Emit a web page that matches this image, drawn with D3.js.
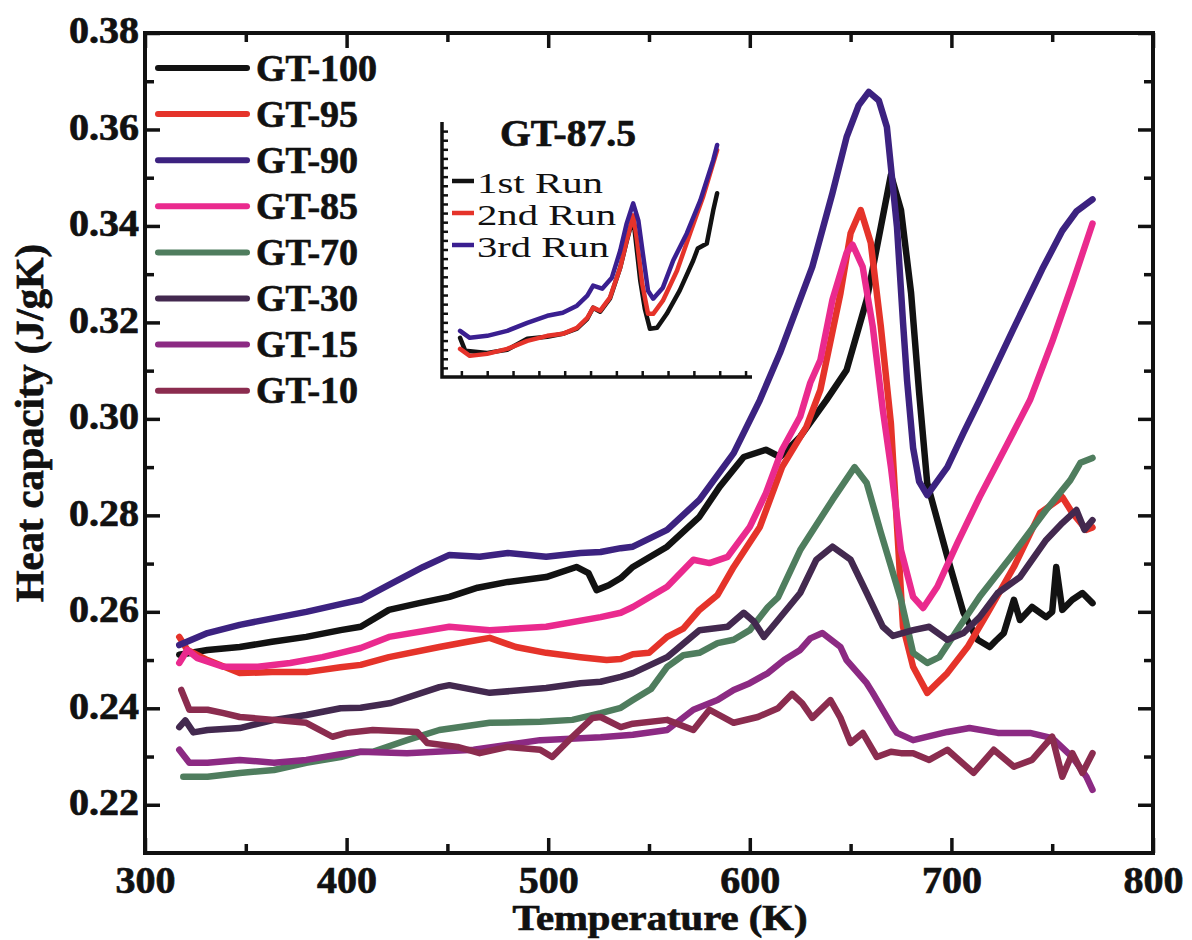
<!DOCTYPE html>
<html>
<head>
<meta charset="utf-8">
<script src="https://cdn.jsdelivr.net/npm/d3@7"></script>
<style>
  body { margin: 0; background: #fff; }
  svg { display: block; }
  text { font-family: "Liberation Serif", "Times New Roman", serif; fill: #111; }
  text.bold { font-weight: bold; stroke: #111; stroke-width: 0.7px; }
</style>
</head>
<body>
<svg id="chart" width="1192" height="940"></svg>
<script>
// ---- data: temperature (K), heat capacity (J/gK) ----
const seriesNames = ["GT-100", "GT-95", "GT-90", "GT-85", "GT-70", "GT-30", "GT-15", "GT-10"];
const seriesColors = ["#121212", "#e5332a", "#3c2280", "#ea2a8e", "#4f7d5e", "#43294f", "#8c2a83", "#8b2c4f"];

const gt100 = [[317,0.2511],[331,0.2521],[347,0.2527],[363,0.2538],[380,0.2548],[397,0.2562],[407,0.2569],[421,0.2604],[436,0.2618],[451,0.2631],[465,0.2650],[480,0.2662],[499,0.2672],[514,0.2693],[520,0.2680],[524,0.2645],[530,0.2655],[536,0.2670],[542,0.2693],[559,0.2735],[575,0.2797],[585,0.2859],[597,0.2921],[608,0.2936],[615,0.2921],[625,0.2963],[638,0.3039],[648,0.3101],[658,0.3247],[665,0.3398],[670,0.3506],[675,0.3433],[680,0.3261],[684,0.3054],[688,0.2867],[698,0.2714],[706,0.2598],[713,0.2542],[719,0.2527],[722,0.2540],[726,0.2556],[731,0.2625],[734,0.2583],[740,0.2610],[747,0.2589],[750,0.2600],[752,0.2693],[755,0.2604],[760,0.2625],[765,0.2639],[770,0.2618]];
const gt95 = [[317,0.2548],[321,0.2521],[331,0.2500],[347,0.2473],[363,0.2475],[380,0.2475],[397,0.2485],[407,0.2490],[421,0.2506],[446,0.2527],[460,0.2538],[471,0.2546],[484,0.2527],[499,0.2515],[516,0.2506],[529,0.2500],[536,0.2502],[542,0.2512],[550,0.2515],[559,0.2548],[567,0.2565],[575,0.2604],[584,0.2635],[592,0.2693],[605,0.2776],[616,0.2900],[628,0.2983],[635,0.3060],[645,0.3261],[650,0.3385],[655,0.3433],[660,0.3365],[665,0.3191],[670,0.2990],[676,0.2569],[681,0.2486],[688,0.2432],[698,0.2473],[708,0.2527],[718,0.2598],[731,0.2693],[744,0.2805],[755,0.2838],[760,0.2805],[767,0.2770],[770,0.2775]];
const gt90 = [[317,0.2531],[331,0.2556],[347,0.2573],[364,0.2587],[380,0.2600],[397,0.2616],[407,0.2625],[421,0.2656],[438,0.2693],[451,0.2718],[466,0.2714],[480,0.2722],[499,0.2714],[516,0.2722],[526,0.2724],[536,0.2732],[542,0.2735],[559,0.2770],[575,0.2832],[592,0.2929],[605,0.3039],[615,0.3137],[631,0.3315],[641,0.3468],[648,0.3584],[654,0.3650],[659,0.3678],[664,0.3660],[668,0.3605],[673,0.3398],[676,0.3200],[678,0.3080],[681,0.2940],[684,0.2870],[688,0.2842],[698,0.2900],[706,0.2971],[714,0.3039],[730,0.3180],[745,0.3310],[755,0.3390],[762,0.3430],[770,0.3455]];
const gt85 = [[317,0.2494],[321,0.2521],[326,0.2504],[339,0.2486],[356,0.2486],[372,0.2494],[388,0.2506],[397,0.2515],[407,0.2525],[421,0.2548],[451,0.2569],[471,0.2562],[499,0.2569],[526,0.2589],[536,0.2598],[542,0.2610],[559,0.2652],[572,0.2708],[580,0.2701],[589,0.2714],[600,0.2776],[608,0.2846],[616,0.2936],[625,0.3005],[630,0.3075],[635,0.3122],[641,0.3247],[648,0.3344],[651,0.3361],[656,0.3315],[661,0.3191],[666,0.3018],[670,0.2900],[675,0.2728],[681,0.2631],[686,0.2608],[693,0.2652],[703,0.2743],[714,0.2838],[728,0.2950],[739,0.3039],[750,0.3160],[760,0.3280],[770,0.3405]];
const gt70 = [[319,0.2258],[331,0.2258],[347,0.2266],[364,0.2272],[380,0.2287],[397,0.2299],[407,0.2310],[413,0.2310],[430,0.2334],[446,0.2355],[471,0.2370],[496,0.2372],[512,0.2376],[526,0.2390],[536,0.2401],[542,0.2417],[551,0.2440],[559,0.2486],[567,0.2510],[575,0.2515],[584,0.2535],[592,0.2542],[600,0.2562],[609,0.2610],[614,0.2630],[625,0.2728],[641,0.2832],[652,0.2900],[658,0.2867],[665,0.2764],[675,0.2625],[681,0.2515],[688,0.2494],[694,0.2506],[704,0.2569],[714,0.2631],[731,0.2722],[747,0.2811],[759,0.2873],[764,0.2909],[770,0.2919]];
const gt30 = [[317,0.2361],[320,0.2375],[324,0.2350],[331,0.2355],[347,0.2359],[364,0.2376],[380,0.2386],[397,0.2400],[407,0.2401],[422,0.2411],[446,0.2444],[451,0.2448],[471,0.2432],[499,0.2442],[516,0.2452],[526,0.2455],[536,0.2465],[542,0.2473],[559,0.2506],[575,0.2562],[589,0.2569],[597,0.2598],[602,0.2580],[607,0.2548],[614,0.2583],[625,0.2639],[633,0.2708],[641,0.2735],[650,0.2708],[658,0.2639],[666,0.2569],[671,0.2550],[681,0.2562],[689,0.2569],[698,0.2542],[706,0.2556],[714,0.2589],[723,0.2639],[734,0.2672],[747,0.2749],[755,0.2784],[762,0.2811],[766,0.2770],[770,0.2790]];
const gt15 = [[317,0.2314],[322,0.2287],[331,0.2287],[347,0.2293],[364,0.2287],[380,0.2293],[397,0.2305],[407,0.2310],[430,0.2307],[463,0.2314],[496,0.2334],[526,0.2340],[542,0.2345],[559,0.2355],[572,0.2397],[584,0.2417],[592,0.2438],[600,0.2452],[609,0.2473],[617,0.2500],[625,0.2521],[630,0.2545],[636,0.2556],[645,0.2527],[648,0.2500],[658,0.2452],[661,0.2432],[671,0.2361],[673,0.2349],[681,0.2334],[698,0.2351],[709,0.2359],[723,0.2349],[739,0.2349],[750,0.2338],[760,0.2299],[767,0.2258],[770,0.2231]];
const gt10 = [[318,0.2438],[322,0.2397],[331,0.2397],[339,0.2390],[347,0.2382],[364,0.2376],[380,0.2370],[393,0.2341],[400,0.2349],[413,0.2355],[435,0.2351],[440,0.2328],[455,0.2320],[466,0.2307],[480,0.2320],[496,0.2314],[502,0.2299],[512,0.2341],[522,0.2380],[526,0.2382],[536,0.2361],[542,0.2368],[559,0.2376],[572,0.2355],[580,0.2397],[592,0.2370],[604,0.2382],[614,0.2400],[621,0.2430],[626,0.2410],[631,0.2380],[640,0.2417],[645,0.2380],[650,0.2328],[656,0.2349],[663,0.2299],[670,0.2310],[675,0.2307],[681,0.2307],[689,0.2293],[698,0.2314],[711,0.2266],[721,0.2314],[731,0.2279],[740,0.2293],[750,0.2341],[755,0.2258],[760,0.2307],[765,0.2266],[770,0.2307]];

const xMajorTicks = [300, 400, 500, 600, 700, 800];
const xMinorTicks = [350, 450, 550, 650, 750];
const yMajorTicks = [0.22, 0.24, 0.26, 0.28, 0.30, 0.32, 0.34, 0.36, 0.38];
const yMinorTicks = [0.23, 0.25, 0.27, 0.29, 0.31, 0.33, 0.35, 0.37];

// inset: repeated runs of GT-87.5
const runNames = ["1st Run", "2nd Run", "3rd Run"];
const runColors = ["#121212", "#e5332a", "#3a1f90"];
const run1 = [[318,0.2630],[326,0.2487],[360,0.2465],[391,0.2500],[422,0.2619],[453,0.2641],[477,0.2674],[499,0.2730],[515,0.2839],[524,0.2961],[535,0.2917],[550,0.3060],[566,0.3402],[576,0.3690],[586,0.3953],[597,0.3258],[604,0.2950],[612,0.2729],[623,0.2740],[638,0.2894],[658,0.3148],[679,0.3479],[686,0.3611],[700,0.3666],[710,0.4030],[716,0.4217]];
const run2 = [[318,0.2509],[333,0.2432],[360,0.2454],[391,0.2509],[422,0.2597],[453,0.2652],[477,0.2674],[499,0.2740],[515,0.2850],[524,0.2961],[535,0.2928],[550,0.3071],[566,0.3402],[576,0.3699],[586,0.3975],[592,0.3699],[600,0.3225],[609,0.2894],[617,0.2894],[632,0.3038],[654,0.3369],[674,0.3776],[694,0.4173],[716,0.4691]];
const run3 = [[318,0.2707],[333,0.2630],[360,0.2652],[391,0.2707],[422,0.2795],[453,0.2872],[477,0.2906],[499,0.2983],[515,0.3093],[524,0.3203],[538,0.3170],[553,0.3291],[566,0.3589],[576,0.3887],[586,0.4107],[594,0.3920],[601,0.3556],[609,0.3148],[617,0.3060],[632,0.3181],[648,0.3479],[669,0.3776],[690,0.4140],[710,0.4581],[716,0.4747]];
const insetXTicks = [320, 360, 400, 440, 480, 520, 560, 600, 640, 680, 720, 760];
const insetYTicks = d3.range(23, 50).map(d => d / 100);

const series = [gt100, gt95, gt90, gt85, gt70, gt30, gt15, gt10];
const runs = [run1, run2, run3];

// ---- layout ----
const svg = d3.select("#chart");
const L = 145, R = 1153, T = 33, B = 853;

svg.append("rect").attr("width", 1192).attr("height", 940).attr("fill", "#ffffff");

const x = d3.scaleLinear().domain([300, 800]).range([L, R]);
const y = d3.scaleLinear().domain([0.21, 0.38]).range([B, T]);

const axisStyle = g => {
  g.select(".domain").remove();
  g.selectAll(".tick line").attr("stroke", "#111").attr("stroke-width", 3.5);
};
const noLabels = g => g.selectAll("text").remove();
const boldLabels = g => g.selectAll("text")
  .attr("class", "bold")
  .attr("font-size", 38)
  .attr("font-family", null)
  .attr("fill", "#111");

// bottom axis with labels
svg.append("g").attr("transform", `translate(0,${B})`)
  .call(d3.axisBottom(x).tickValues(xMajorTicks).tickSize(-15).tickFormat(d3.format("d")))
  .call(axisStyle)
  .call(boldLabels)
  .call(g => g.selectAll("text")
    .attr("y", 40).attr("dy", 0)
    .attr("textLength", 60).attr("lengthAdjust", "spacingAndGlyphs"));
svg.append("g").attr("transform", `translate(0,${B})`)
  .call(d3.axisBottom(x).tickValues(xMinorTicks).tickSize(-9)).call(axisStyle).call(noLabels);

// top axis (ticks only)
svg.append("g").attr("transform", `translate(0,${T})`)
  .call(d3.axisTop(x).tickValues(xMajorTicks).tickSize(-15)).call(axisStyle).call(noLabels);
svg.append("g").attr("transform", `translate(0,${T})`)
  .call(d3.axisTop(x).tickValues(xMinorTicks).tickSize(-9)).call(axisStyle).call(noLabels);

// left axis with labels
svg.append("g").attr("transform", `translate(${L},0)`)
  .call(d3.axisLeft(y).tickValues(yMajorTicks).tickSize(-15).tickFormat(d3.format(".2f")))
  .call(axisStyle)
  .call(boldLabels)
  .call(g => g.selectAll("text")
    .attr("x", -6).attr("dy", "0.26em")
    .attr("textLength", 70).attr("lengthAdjust", "spacingAndGlyphs"));
svg.append("g").attr("transform", `translate(${L},0)`)
  .call(d3.axisLeft(y).tickValues(yMinorTicks).tickSize(-9)).call(axisStyle).call(noLabels);

// right axis (ticks only)
svg.append("g").attr("transform", `translate(${R},0)`)
  .call(d3.axisRight(y).tickValues(yMajorTicks).tickSize(-15)).call(axisStyle).call(noLabels);
svg.append("g").attr("transform", `translate(${R},0)`)
  .call(d3.axisRight(y).tickValues(yMinorTicks).tickSize(-9)).call(axisStyle).call(noLabels);

// ---- curves ----
const line = d3.line().x(d => x(d[0])).y(d => y(d[1])).curve(d3.curveLinear);
const curves = svg.append("g");
series.forEach((s, i) => {
  curves.append("path")
    .attr("d", line(s))
    .attr("fill", "none")
    .attr("stroke", seriesColors[i])
    .attr("stroke-width", 6.5)
    .attr("stroke-linejoin", "round")
    .attr("stroke-linecap", "round");
});

// plot frame
svg.append("rect")
  .attr("x", L).attr("y", T).attr("width", R - L).attr("height", B - T)
  .attr("fill", "none").attr("stroke", "#111").attr("stroke-width", 4);

// axis titles
svg.append("text")
  .attr("class", "bold")
  .attr("x", 660).attr("y", 930)
  .attr("text-anchor", "middle")
  .attr("font-size", 35)
  .attr("textLength", 295).attr("lengthAdjust", "spacingAndGlyphs")
  .text("Temperature (K)");

svg.append("text")
  .attr("class", "bold")
  .attr("transform", "translate(43,423) rotate(-90)")
  .attr("text-anchor", "middle")
  .attr("font-size", 40)
  .attr("textLength", 358).attr("lengthAdjust", "spacingAndGlyphs")
  .text("Heat capacity (J/gK)");

// ---- legend ----
const legend = svg.append("g");
seriesNames.forEach((name, i) => {
  const ly = 68 + i * 46.1;
  legend.append("line")
    .attr("x1", 158).attr("x2", 247).attr("y1", ly).attr("y2", ly)
    .attr("stroke", seriesColors[i]).attr("stroke-width", 6)
    .attr("stroke-linecap", "round");
  legend.append("text")
    .attr("class", "bold")
    .attr("x", 256).attr("y", ly + 12.5)
    .attr("font-size", 38)
    .text(name);
});

// ---- inset ----
const xi = d3.scaleLinear().domain([290, 770]).range([442, 752]);
const yi = d3.scaleLinear().domain([0.22, 0.50]).range([377, 122]);
const inset = svg.append("g");

inset.append("g").attr("transform", "translate(442,0)")
  .call(d3.axisLeft(yi).tickValues(insetYTicks).tickSize(-6))
  .call(axisStyle).call(noLabels)
  .call(g => g.selectAll(".tick line").attr("stroke-width", 2.5));
inset.append("g").attr("transform", "translate(0,377)")
  .call(d3.axisBottom(xi).tickValues(insetXTicks).tickSize(-6))
  .call(axisStyle).call(noLabels)
  .call(g => g.selectAll(".tick line").attr("stroke-width", 2.5));
inset.append("path")
  .attr("d", `M442,${yi(0.50)}V377H${xi(770)}`)
  .attr("fill", "none").attr("stroke", "#111").attr("stroke-width", 3.5);

const lineI = d3.line().x(d => xi(d[0])).y(d => yi(d[1]));
runs.forEach((r, i) => {
  inset.append("path")
    .attr("d", lineI(r))
    .attr("fill", "none")
    .attr("stroke", runColors[i])
    .attr("stroke-width", 4.5)
    .attr("stroke-linejoin", "round")
    .attr("stroke-linecap", "round");
});

inset.append("text")
  .attr("class", "bold")
  .attr("x", 500).attr("y", 146)
  .attr("font-size", 38)
  .attr("textLength", 136).attr("lengthAdjust", "spacingAndGlyphs")
  .text("GT-87.5");

runNames.forEach((name, i) => {
  const ly = 181 + i * 32;
  inset.append("line")
    .attr("x1", 452).attr("x2", 474).attr("y1", ly).attr("y2", ly)
    .attr("stroke", runColors[i]).attr("stroke-width", 4.5);
  inset.append("text")
    .attr("x", 477).attr("y", ly + 12)
    .attr("font-size", 29)
    .attr("textLength", [126, 139, 132][i]).attr("lengthAdjust", "spacingAndGlyphs")
    .text(name);
});
</script>
</body>
</html>
